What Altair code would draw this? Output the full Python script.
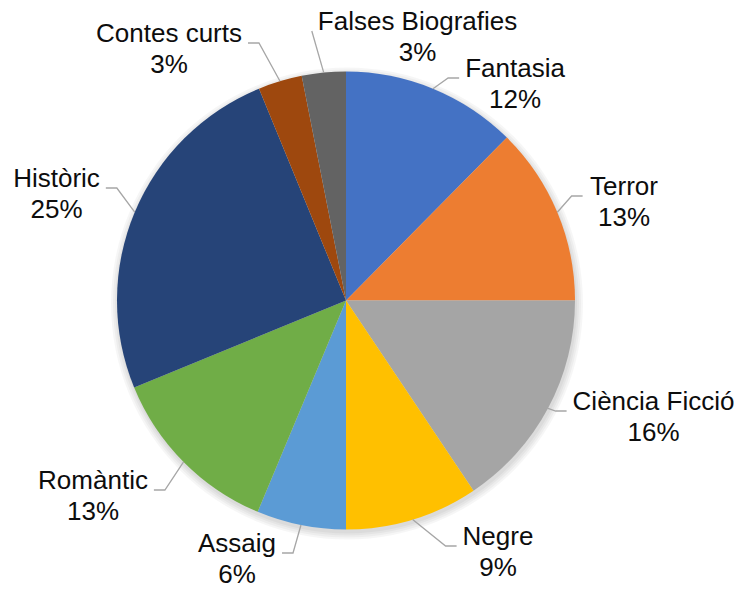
import math
import altair as alt
import pandas as pd

# ---------------- data ----------------
categories = ["Fantasia", "Terror", "Ciència Ficció", "Negre", "Assaig",
              "Romàntic", "Històric", "Contes curts", "Falses Biografies"]
shares = [12.4, 12.6, 15.6, 9.4, 6.3, 12.5, 25.0, 3.1, 3.1]
colors = ["#4472C4", "#ED7D31", "#A5A5A5", "#FFC000", "#5B9BD5",
          "#70AD47", "#264478", "#9E480E", "#636363"]

# ---------------- layout / style ----------------
W, H = 741, 590
CX, CY = 346, 300.5          # pie centre in the canvas
R = 229                      # pie radius
FONT = "Liberation Sans"
FS = 26
LH = 31
GAP = 6
# label block centre (x) and first-line baseline (y), offsets from the pie centre, px (y down)
label_offsets = [(169, -223.5), (278, -105.5), (307.5, 109.5), (152, 244.5), (-109, 251.5),
                 (-253, 188.5), (-289.5, -113.5), (-177, -258.5), (71.5, -270.5)]
elbow_len = [11, 11, 11, 11, 11, 11, 11, 11, 0]

# Arial / Liberation Sans advance widths (per em)
AW = {"F": .611, "a": .556, "l": .222, "s": .5, "e": .556, " ": .278, "B": .667, "i": .222,
      "o": .556, "g": .556, "r": .333, "f": .278, "n": .556, "t": .278, "T": .611, "C": .722,
      "è": .556, "c": .5, "ó": .556, "N": .722, "A": .667, "R": .722, "m": .833, "à": .556,
      "H": .722, "ò": .556, "u": .556}


def text_width(s):
    return sum(AW.get(ch, .556) for ch in s) * FS


total = sum(shares)
pie_df = pd.DataFrame({"cat": categories, "value": shares, "idx": list(range(len(shares)))})

lab_rows, line_rows = [], []
cum = 0.0
for i, (c, v) in enumerate(zip(categories, shares)):
    pct = f"{int(v + 0.5)}%"
    ox, oy = label_offsets[i]
    lx, ly = ox, -oy
    lab_rows.append({"cat": c, "x": lx, "y": ly, "text": c + "\n" + pct})
    mid = (cum + v / 2) / total * 2 * math.pi
    cum += v
    sx, sy = R * math.sin(mid), R * math.cos(mid)
    side = 1 if lx > 0 else -1
    ex = lx - side * (text_width(c) / 2 + GAP)
    ey = ly - 1
    bx = ex - side * elbow_len[i]
    for k, (px, py) in enumerate([(sx, sy), (bx, ey), (ex, ey)]):
        line_rows.append({"cat": c, "seq": k, "x": px, "y": py})

lab_df = pd.DataFrame(lab_rows)
line_df = pd.DataFrame(line_rows)

xs = alt.Scale(domain=[-CX, W - CX], nice=False, zero=False)
ys = alt.Scale(domain=[-(H - CY), CY], nice=False, zero=False)

shadows = [
    alt.Chart(pd.DataFrame({"k": [0]})).mark_arc(
        theta=0, theta2=2 * math.pi, outerRadius=R + d, color="#000000", opacity=0.035
    ).encode(
        x=alt.XDatum(1, type="quantitative", scale=xs, axis=None),
        y=alt.YDatum(-3, type="quantitative", scale=ys, axis=None),
    )
    for d in [7, 5, 3, 1]
]

pie = alt.Chart(pie_df).mark_arc(outerRadius=R).encode(
    theta=alt.Theta("value:Q", stack=True),
    color=alt.Color("cat:N", scale=alt.Scale(domain=categories, range=colors), legend=None),
    order=alt.Order("idx:Q", sort="ascending"),
    x=alt.XDatum(0, type="quantitative", scale=xs, axis=None),
    y=alt.YDatum(0, type="quantitative", scale=ys, axis=None),
)

lines = alt.Chart(line_df).mark_line(color="#A6A6A6", strokeWidth=1.3).encode(
    x=alt.X("x:Q", scale=xs, axis=None),
    y=alt.Y("y:Q", scale=ys, axis=None),
    detail="cat:N",
    order="seq:Q",
)

texts = alt.Chart(lab_df).mark_text(
    font=FONT, fontSize=FS, lineHeight=LH, align="center", baseline="alphabetic",
    lineBreak="\n", color="#0D0D0D"
).encode(
    x=alt.X("x:Q", scale=xs, axis=None),
    y=alt.Y("y:Q", scale=ys, axis=None),
    text="text:N",
)

chart = alt.layer(*shadows, pie, lines, texts).properties(
    width=W, height=H, autosize="none", padding=0, background="white"
).configure_view(stroke=None)

chart.save("out.html", embed_options={"renderer": "svg", "actions": False})
